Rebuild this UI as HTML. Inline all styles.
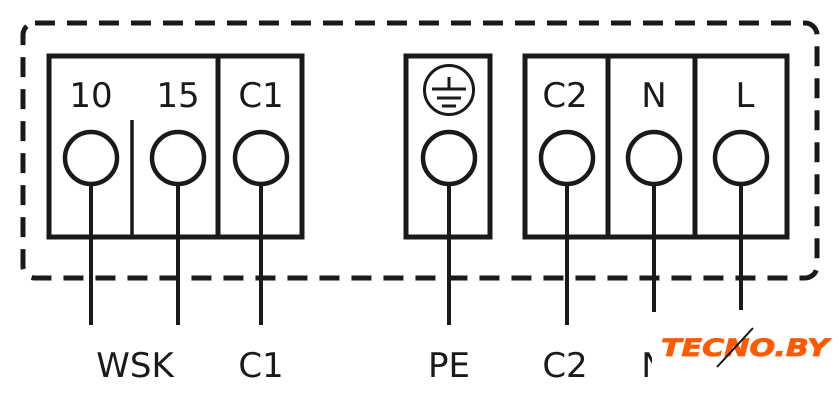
<!DOCTYPE html>
<html><head><meta charset="utf-8"><style>
html,body{margin:0;padding:0;background:#fff;}
svg{display:block;}
text{font-family:"DejaVu Sans","Liberation Sans",sans-serif;fill:#1a1a1a;}
</style></head><body>
<svg width="840" height="408" viewBox="0 0 840 408" xmlns="http://www.w3.org/2000/svg">
<rect x="23" y="23" width="794" height="255" rx="12" fill="none" stroke="#1a1a1a" stroke-width="5" stroke-dasharray="20 12"/>
<g fill="none" stroke="#1a1a1a" stroke-width="5">
<rect x="49" y="56" width="253" height="181" fill="#fff"/>
<line x1="218" y1="56" x2="218" y2="237"/>
<line x1="132" y1="120" x2="132" y2="237" stroke-width="3.5"/>
<rect x="406" y="56" width="84" height="181" fill="#fff"/>
<rect x="525" y="56" width="262" height="181" fill="#fff"/>
<line x1="608" y1="56" x2="608" y2="237"/>
<line x1="695" y1="56" x2="695" y2="237"/>
</g>
<g stroke="#1a1a1a" stroke-width="4">
<line x1="91" y1="184" x2="91" y2="325"/>
<line x1="178" y1="184" x2="178" y2="325"/>
<line x1="261" y1="184" x2="261" y2="325"/>
<line x1="449" y1="184" x2="449" y2="325"/>
<line x1="567" y1="184" x2="567" y2="325"/>
<line x1="654" y1="184" x2="654" y2="325"/>
<line x1="741" y1="184" x2="741" y2="310"/>
</g>
<g fill="#fff" stroke="#1a1a1a" stroke-width="4.5">
<circle cx="91" cy="158" r="26"/>
<circle cx="178" cy="158" r="26"/>
<circle cx="261" cy="158" r="26"/>
<circle cx="449" cy="158" r="26"/>
<circle cx="567" cy="158" r="26"/>
<circle cx="654" cy="158" r="26"/>
<circle cx="741" cy="158" r="26"/>
</g>
<g stroke="#1a1a1a" stroke-width="3" fill="none">
<circle cx="449" cy="90" r="24.5"/>
<line x1="449" y1="77" x2="449" y2="89"/>
<line x1="432" y1="89" x2="466" y2="89"/>
<line x1="437" y1="98" x2="461" y2="98"/>
<line x1="442" y1="106" x2="456" y2="106"/>
</g>
<g font-size="34" text-anchor="middle">
<text x="91" y="107">10</text>
<text x="178" y="107">15</text>
<text x="261" y="107">C1</text>
<text x="565" y="107">C2</text>
<text x="654" y="107">N</text>
<text x="745" y="107">L</text>
<text x="135" y="377">WSK</text>
<text x="261" y="377">C1</text>
<text x="449" y="377">PE</text>
<text x="565" y="377">C2</text>
<text x="654" y="377">N</text>
</g>
<rect x="652" y="312" width="188" height="96" fill="#fff"/>
<text x="661" y="356" font-family="'Liberation Sans',sans-serif" font-size="24" font-weight="bold" font-style="italic" style="fill:#ff5a00;stroke:#ff5a00;stroke-width:0.8" textLength="168" lengthAdjust="spacingAndGlyphs">TECNO.BY</text>
<line x1="717" y1="367" x2="753" y2="328" stroke="#111" stroke-width="2"/>
</svg>
</body></html>
